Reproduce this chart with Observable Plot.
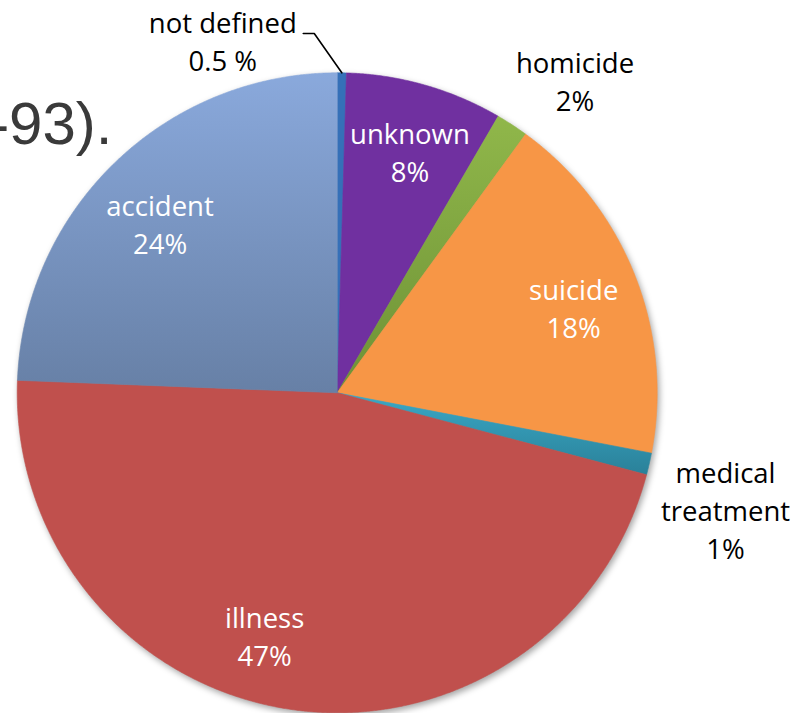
<!DOCTYPE html>
<html>
<head>
<meta charset="utf-8">
<script src="https://cdn.jsdelivr.net/npm/d3@7"></script>
<script src="https://cdn.jsdelivr.net/npm/@observablehq/plot@0.6"></script>
<style>
  body { margin: 0; background: #fff; }
  #wrap { position: relative; width: 794px; height: 713px; overflow: hidden; }
  #title { position: absolute; left: -87.5px; top: 94px; width: 200px; text-align: right;
           font: 60px "Liberation Sans", Arial, sans-serif; line-height: 60px; color: #3a3a3a; white-space: nowrap; }
  .pie { filter: drop-shadow(2px 3px 3px rgba(0,0,0,0.35)); }
</style>
</head>
<body>
<div id="wrap"><div id="chart"></div><div id="title">-93).</div></div>
<script>
// ---- data (clockwise from 12 o'clock) ----
const categories = ["not defined", "unknown", "homicide", "suicide", "medical treatment", "illness", "accident"];
const values = [0.46, 7.93, 1.63, 18.0, 1.10, 46.5, 24.38];
const labels = ["not defined\n0.5 %", "unknown\n8%", "homicide\n2%", "suicide\n18%", "medical\ntreatment\n1%", "illness\n47%", "accident\n24%"];
const fills = ["#3570b8", "#7030a0", "url(#gHom)", "#f79646", "url(#gMed)", "#c0504d", "url(#gAcc)"];

// ---- layout ----
const cx = 336.7, cy = 392.3, R = 320;
const labelPlacement = {
  "not defined": {angle: 341.8, r: 1.145},
  "unknown": {angle: 17.0, r: 0.777},
  "homicide": {angle: 37.6, r: 1.218},
  "suicide": {angle: 70.9, r: 0.782},
  "medical treatment": {angle: 107.3, r: 1.271},
  "illness": {angle: 196.4, r: 0.803},
  "accident": {angle: 313.0, r: 0.757}
};

const table = categories.map((c, i) => ({category: c, value: values[i], label: labels[i]}));
const arcs = d3.pie().sort(null).value(d => d.value)(table);

const step = Math.PI / 720;
const polyPts = arcs.flatMap(p => {
  const c = p.data.category;
  const n = Math.max(2, Math.ceil((p.endAngle - p.startAngle) / step));
  const pts = [{category: c, x: 0, y: 0}];
  for (let k = 0; k <= n; k++) {
    const a = p.startAngle + (p.endAngle - p.startAngle) * k / n;
    pts.push({category: c, x: Math.sin(a), y: Math.cos(a)});
  }
  pts.push({category: c, x: 0, y: 0});
  return pts;
});

const labelData = table.map(d => {
  const pl = labelPlacement[d.category];
  const a = pl.angle * Math.PI / 180;
  return {...d, x: pl.r * Math.sin(a), y: pl.r * Math.cos(a), outside: pl.r > 1};
});

// leader line for "not defined"
const nd = arcs[0];
const ndLabel = labelData[0];
const ndMid = (nd.startAngle + nd.endAngle) / 2;
const leaderStart = {x: ndLabel.x + 80.5 / R, y: ndLabel.y + 11.2 / R};
const leader = [
  leaderStart,
  {x: leaderStart.x + 11 / R, y: leaderStart.y},
  {x: Math.sin(ndMid), y: Math.cos(ndMid)}
];

function defs() {
  const d = d3.create("svg:defs");
  const grad = (id, c0, c1) => {
    const g = d.append("linearGradient").attr("id", id).attr("x1", 0).attr("y1", 0).attr("x2", 0).attr("y2", 1);
    g.append("stop").attr("offset", "0%").attr("stop-color", c0);
    g.append("stop").attr("offset", "100%").attr("stop-color", c1);
  };
  grad("gAcc", "#8aa9dc", "#6780a6");
  grad("gHom", "#90b74a", "#6d9136");
  grad("gMed", "#3aa8c6", "#2a8199");
  return d.node();
}

const textStyle = {fontSize: 27.5, fontFamily: "Open Sans", lineHeight: 1.38, lineAnchor: "middle", textAnchor: "middle", dy: -4.5};

const chart = Plot.plot({
  width: 794,
  height: 713,
  margin: 0,
  x: {domain: [-1, 1], range: [cx - R, cx + R], axis: null},
  y: {domain: [-1, 1], range: [cy + R, cy - R], axis: null},
  color: {type: "ordinal", domain: categories, range: fills},
  style: {background: "white"},
  marks: [
    defs,
    Plot.line(polyPts, {x: "x", y: "y", z: "category", fill: "category", stroke: "category", strokeWidth: 0.6, className: "pie"}),
    Plot.line(leader, {x: "x", y: "y", stroke: "black", strokeWidth: 1.6}),
    Plot.text(labelData.filter(d => !d.outside), {x: "x", y: "y", text: "label", fill: "white", ...textStyle}),
    Plot.text(labelData.filter(d => d.outside), {x: "x", y: "y", text: "label", fill: "black", ...textStyle})
  ]
});
document.getElementById("chart").appendChild(chart);
</script>
</body>
</html>
